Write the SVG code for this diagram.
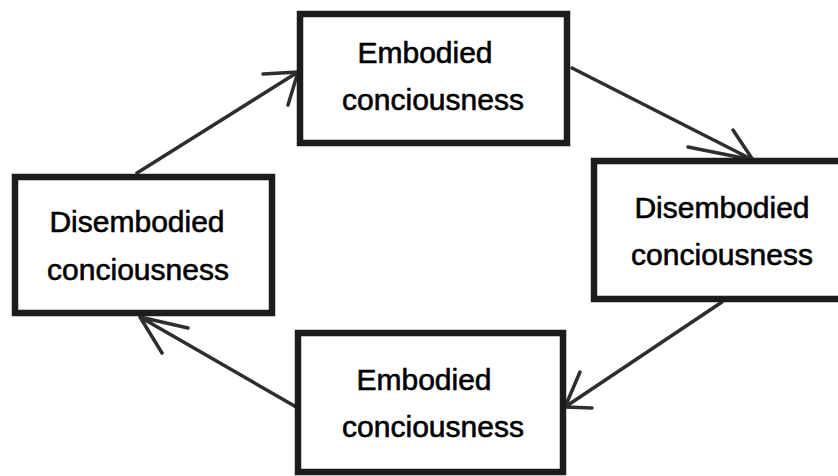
<svg xmlns="http://www.w3.org/2000/svg" width="838" height="476" viewBox="0 0 838 476">
<style>
.box{fill:#fff;stroke:#1c1c1c;stroke-width:6.5;stroke-linejoin:miter}
.lbl{font-family:"Liberation Sans",Arial,sans-serif;font-size:30px;fill:#000;stroke:#000;stroke-width:0.6;text-anchor:middle}
.arr{fill:none;stroke:#2e2e2e;stroke-width:3.5;stroke-linecap:round;stroke-linejoin:round}
.faint{fill:none;stroke:#999;stroke-width:1.5;stroke-linecap:round}
</style>
<rect width="838" height="476" fill="#fff"/>
<g id="connectors">
<path class="arr" d="M137,173 L298,72 M263,74 L298,72 L288,105"/>
<path class="arr" d="M572,68 L753,160 M733,130 L753,160 L688,147"/>
<path class="faint" d="M753,160 L778,177"/>
<path class="arr" d="M722,302 L565,407 M580,372 L565,407 L592,408"/>
<path class="arr" d="M298,408 L140,317 M188,328 L140,317 L162,353"/>
</g>
<g id="top">
<rect class="box" x="300" y="14" width="267" height="129"/>
<text class="lbl" x="425" y="63">Embodied</text>
<text class="lbl" x="433" y="110">conciousness</text>
</g>
<g id="right">
<rect class="box" x="594" y="161" width="260" height="138"/>
<text class="lbl" x="722" y="218">Disembodied</text>
<text class="lbl" x="722" y="265">conciousness</text>
</g>
<g id="left">
<rect class="box" x="15" y="177" width="257" height="136"/>
<text class="lbl" x="137" y="232">Disembodied</text>
<text class="lbl" x="138" y="280">conciousness</text>
</g>
<g id="bottom">
<rect class="box" x="298" y="333" width="265" height="139"/>
<text class="lbl" x="424" y="390">Embodied</text>
<text class="lbl" x="433" y="437">conciousness</text>
</g>
</svg>
